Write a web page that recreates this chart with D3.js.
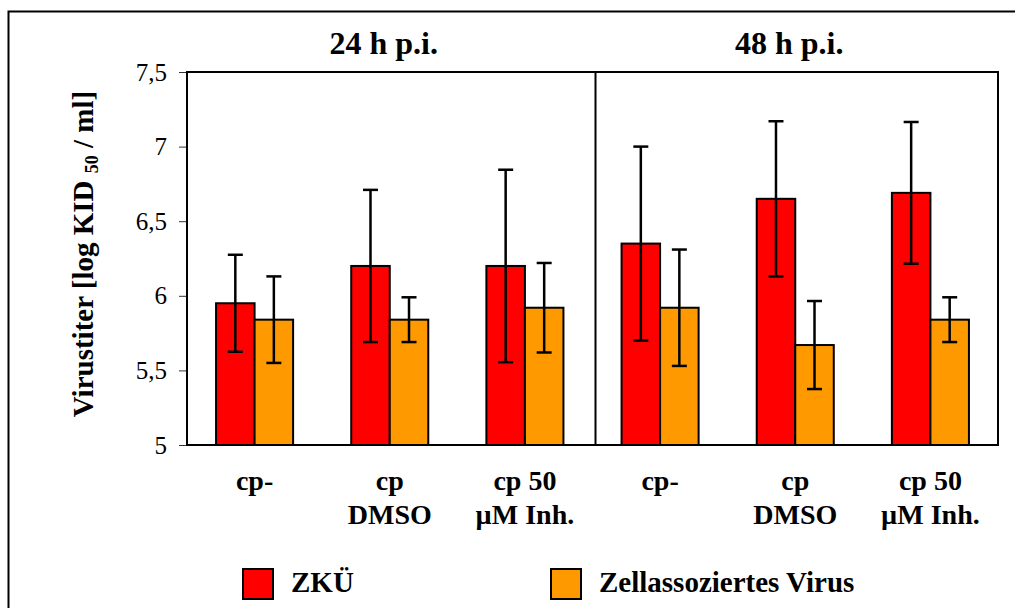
<!DOCTYPE html>
<html>
<head>
<meta charset="utf-8">
<script src="https://cdn.jsdelivr.net/npm/d3@7"></script>
<style>
  body { margin: 0; background: #fff; }
  svg text { font-family: "Liberation Serif", "Times New Roman", "DejaVu Serif", serif; }
</style>
</head>
<body>
<svg width="1015" height="608"></svg>
<script>
// data
const timepoints = ['24 h p.i.', '48 h p.i.'];
const categoryLabels = [['cp-'], ['cp', 'DMSO'], ['cp 50', 'µM Inh.'], ['cp-'], ['cp', 'DMSO'], ['cp 50', 'µM Inh.']];
const seriesNames = ['ZKÜ', 'Zellassoziertes Virus'];
const seriesColors = ['#ff0000', '#ff9900'];
const zkuValues = [5.95, 6.20, 6.20, 6.35, 6.65, 6.69];
const zkuErrors = [0.325, 0.51, 0.645, 0.65, 0.52, 0.475];
const zellValues = [5.84, 5.84, 5.92, 5.92, 5.67, 5.84];
const zellErrors = [0.29, 0.15, 0.30, 0.39, 0.295, 0.15];
const yTicks = [5, 5.5, 6, 6.5, 7, 7.5];

const serif = '"Liberation Serif", "Times New Roman", "DejaVu Serif", serif';

const svg = d3.select('svg').attr('font-family', serif),
  margin = {top: 72, right: 17, bottom: 163, left: 187},
  width = +svg.attr('width') - margin.left - margin.right,
  height = +svg.attr('height') - margin.top - margin.bottom;

// outer frame (clipped at the right and bottom in the original)
svg.append('rect')
  .attr('x', 8.5).attr('y', 11.5)
  .attr('width', 1030).attr('height', 620)
  .attr('fill', 'none').attr('stroke', '#000').attr('stroke-width', 2);

const groupIds = d3.range(categoryLabels.length);
const x0 = d3.scaleBand().domain(groupIds).range([0, width]);
const x1 = d3.scaleBand().domain([0, 1])
  .range([x0.bandwidth() * 0.215, x0.bandwidth() * 0.785]);
const y = d3.scaleLinear().domain([5, 7.5]).range([height, 0]);

const g = svg.append('g')
  .attr('transform', 'translate(' + margin.left + ',' + margin.top + ')');

// y axis
const yAxis = g.append('g')
  .call(d3.axisLeft(y).tickValues(yTicks).tickSize(8).tickPadding(12)
    .tickFormat(function (d) { return String(d).replace('.', ','); }));
yAxis.attr('font-family', serif).attr('font-size', 25);
yAxis.select('.domain').remove();
yAxis.selectAll('line').attr('stroke', '#333');
yAxis.selectAll('text').attr('fill', '#000');

const rows = groupIds.map(function (i) {
  return [
    {s: 0, v: zkuValues[i], e: zkuErrors[i]},
    {s: 1, v: zellValues[i], e: zellErrors[i]}
  ];
});

const grp = g.selectAll('.grp')
  .data(rows)
  .enter().append('g')
  .attr('class', 'grp')
  .attr('transform', function (d, i) { return 'translate(' + x0(i) + ',0)'; });

grp.selectAll('rect')
  .data(function (d) { return d; })
  .enter().append('rect')
  .attr('x', function (d) { return x1(d.s); })
  .attr('y', function (d) { return y(d.v); })
  .attr('width', x1.bandwidth())
  .attr('height', function (d) { return height - y(d.v); })
  .attr('fill', function (d) { return seriesColors[d.s]; })
  .attr('stroke', '#000')
  .attr('stroke-width', 2);

// error bars
const err = grp.selectAll('.err')
  .data(function (d) { return d; })
  .enter().append('g')
  .attr('class', 'err')
  .attr('stroke', '#000')
  .attr('stroke-width', 2.5);
const cx = function (d) { return x1(d.s) + x1.bandwidth() / 2; };
err.append('line')
  .attr('x1', cx).attr('x2', cx)
  .attr('y1', function (d) { return y(d.v + d.e); })
  .attr('y2', function (d) { return y(d.v - d.e); });
err.append('line')
  .attr('x1', function (d) { return cx(d) - 7.5; })
  .attr('x2', function (d) { return cx(d) + 7.5; })
  .attr('y1', function (d) { return y(d.v + d.e); })
  .attr('y2', function (d) { return y(d.v + d.e); });
err.append('line')
  .attr('x1', function (d) { return cx(d) - 7.5; })
  .attr('x2', function (d) { return cx(d) + 7.5; })
  .attr('y1', function (d) { return y(d.v - d.e); })
  .attr('y2', function (d) { return y(d.v - d.e); });

// plot frame and separator
g.append('rect')
  .attr('width', width).attr('height', height)
  .attr('fill', 'none').attr('stroke', '#000').attr('stroke-width', 2);
g.append('line')
  .attr('x1', x0(3) + 3).attr('x2', x0(3) + 3)
  .attr('y1', 0).attr('y2', height)
  .attr('stroke', '#000').attr('stroke-width', 2);

// time point titles
g.selectAll('.tp')
  .data(timepoints)
  .enter().append('text')
  .attr('class', 'tp')
  .attr('x', function (d, i) { return x0(i * 3) + x0.bandwidth() * 1.5 - 6; })
  .attr('y', -18)
  .attr('text-anchor', 'middle')
  .attr('font-size', 32)
  .attr('font-weight', 'bold')
  .text(function (d) { return d; });

// category labels
const cl = g.selectAll('.cat')
  .data(categoryLabels)
  .enter().append('text')
  .attr('class', 'cat')
  .attr('text-anchor', 'middle')
  .attr('font-size', 28)
  .attr('font-weight', 'bold');
cl.selectAll('tspan')
  .data(function (d, i) { return d.map(function (t) { return {t: t, i: i}; }); })
  .enter().append('tspan')
  .attr('x', function (d) { return x0(d.i) + x0.bandwidth() / 2; })
  .attr('y', function (d, j) { return height + 45 + j * 34; })
  .text(function (d) { return d.t; });

// y axis title
const yt = svg.append('text')
  .attr('transform', 'translate(93,254) rotate(-90)')
  .attr('text-anchor', 'middle')
  .attr('font-size', 29)
  .attr('font-weight', 'bold');
yt.append('tspan').text('Virustiter [log KID ');
yt.append('tspan').attr('font-size', 18).attr('dy', 5).text('50');
yt.append('tspan').attr('dy', -5).text(' / ml]');

// legend
const legendX = [243, 551];
const lg = svg.selectAll('.lg')
  .data(seriesNames)
  .enter().append('g')
  .attr('class', 'lg')
  .attr('transform', function (d, i) { return 'translate(' + legendX[i] + ',569)'; });
lg.append('rect')
  .attr('width', 30).attr('height', 30)
  .attr('fill', function (d, i) { return seriesColors[i]; })
  .attr('stroke', '#000').attr('stroke-width', 2);
lg.append('text')
  .attr('x', 48).attr('y', 23)
  .attr('font-size', 29)
  .attr('font-weight', 'bold')
  .text(function (d) { return d; });
</script>
</body>
</html>
